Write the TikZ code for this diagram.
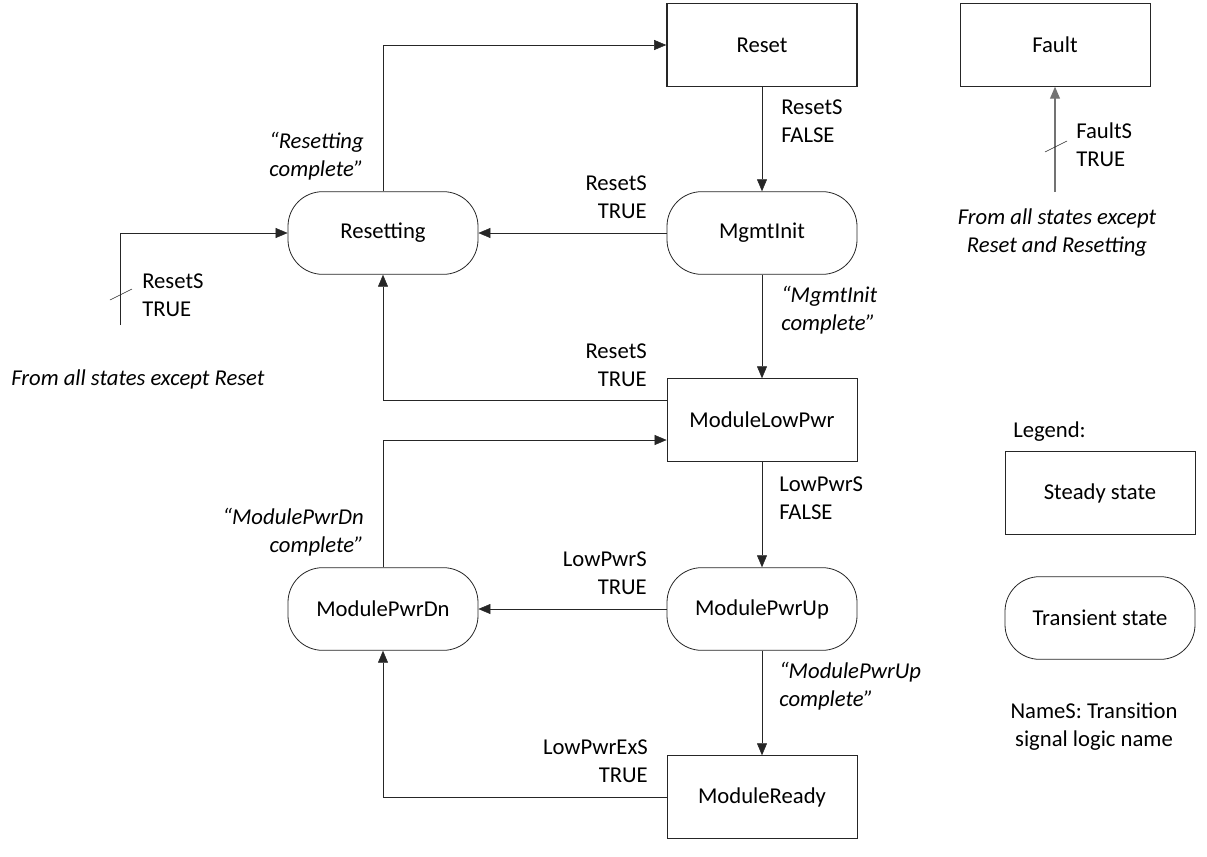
\documentclass[tikz,border=0pt]{standalone}
\usepackage{fontspec}
\setmainfont{Carlito}
\usetikzlibrary{arrows.meta, positioning}

\begin{document}
\begin{tikzpicture}[
    x=0.75pt, y=-0.75pt,
    font=\fontsize{17}{21}\selectfont,
    steady/.style={rectangle, draw=black!85, fill=white, semithick,
        minimum width=142.5pt, minimum height=62pt, inner sep=0pt},
    transient/.style={steady, rounded corners=26pt},
    arrow/.style={-{Triangle[length=9pt, width=7.5pt]}, draw=black!85},
    faultarrow/.style={-{Triangle[length=9pt, width=7.5pt]}, draw=black!55, thick},
    lbl/.style={inner sep=0pt},
    lblL/.style={lbl, anchor=east, align=right},
    lblR/.style={lbl, anchor=west, align=left},
    note/.style={lbl, font=\fontsize{17}{21}\selectfont\itshape},
]
\useasboundingbox (0,0) rectangle (1207,857);

% ---- states ----
\node (reset)     [steady, very thick] at (762,45)  {Reset};
\node (fault)     [steady]             at (1055,45) {Fault};
\node (mgmt)      [transient]          at (762,233) {MgmtInit};
\node (resetting) [transient]          at (383,233) {Resetting};
\node (lowpwr)    [steady]             at (762,420) {ModuleLowPwr};
\node (pwrdn)     [transient]          at (383,609) {ModulePwrDn};
\node (pwrup)     [transient]          at (762,609) {ModulePwrUp};
\node (ready)     [steady]             at (762,797) {ModuleReady};

% ---- legend ----
\node (legend)    [lbl, anchor=west] at (1013,432) {Legend:};
\node (steadykey) [steady]    at (1100,493) {Steady state};
\node (transkey)  [transient] at (1100,618) {Transient state};
\node (namekey)   [lbl, align=center] at (1094,727) {NameS: Transition\\signal logic name};

% ---- transitions ----
\draw[arrow] (reset) -- (mgmt);
\draw[arrow] (resetting.north) |- (reset.west);
\draw[arrow] (mgmt) -- (resetting);
\draw[arrow] (mgmt) -- (lowpwr);
\draw[arrow] ([yshift=15pt]lowpwr.west) -| (resetting.south);
\draw[arrow] (pwrdn.north) |- ([yshift=-15pt]lowpwr.west);
\draw[arrow] (lowpwr) -- (pwrup);
\draw[arrow] (pwrup) -- (pwrdn);
\draw[arrow] (pwrup) -- (ready);
\draw[arrow] (ready.west) -| (pwrdn.south);

% ---- transitions from all states ----
\coordinate (extsrc) at (120,325);
\coordinate (extcut) at (121,294);
\draw[arrow] (extsrc) |- (resetting.west);
\draw[black!85] (extcut) ++(-11,6) -- ++(22,-11);

\coordinate (faultsrc) at (1055,192);
\coordinate (faultcut) at (1056,146);
\draw[faultarrow] (faultsrc) -- (fault);
\draw[black!85] (faultcut) ++(-11,6) -- ++(22,-11);

% ---- labels ----
\node (lblresetfalse) [lblR] at (781,121) {ResetS\\FALSE};
\node (lblresetdone)  [note, lblL, align=center] at (364,156) {“Resetting\\complete”};
\node (lblresettrue1) [lblL] at (647,197) {ResetS\\TRUE};
\node (lblmgmtdone)   [note, lblR] at (781,310) {“MgmtInit\\complete”};
\node (lblresettrue2) [lblL] at (647,365) {ResetS\\TRUE};
\node (lblresettrue3) [lblR] at (142,295) {ResetS\\TRUE};
\node (lblallreset)   [note, anchor=west] at (11,379) {From all states except Reset};
\node (lblpwrdndone)  [note, lblL] at (364,532) {“ModulePwrDn\\complete”};
\node (lbllowfalse)   [lblR] at (779,498) {LowPwrS\\FALSE};
\node (lbllowtrue)    [lblL] at (647,573) {LowPwrS\\TRUE};
\node (lblpwrupdone)  [note, lblR] at (779,686) {“ModulePwrUp\\complete”};
\node (lblexstrue)    [lblL] at (648,761) {LowPwrExS\\TRUE};
\node (lblfaulttrue)  [lblR] at (1076,145) {FaultS\\TRUE};
\node (lblallfault)   [note, align=center] at (1057,233) {From all states except\\Reset and Resetting};

\end{tikzpicture}
\end{document}
